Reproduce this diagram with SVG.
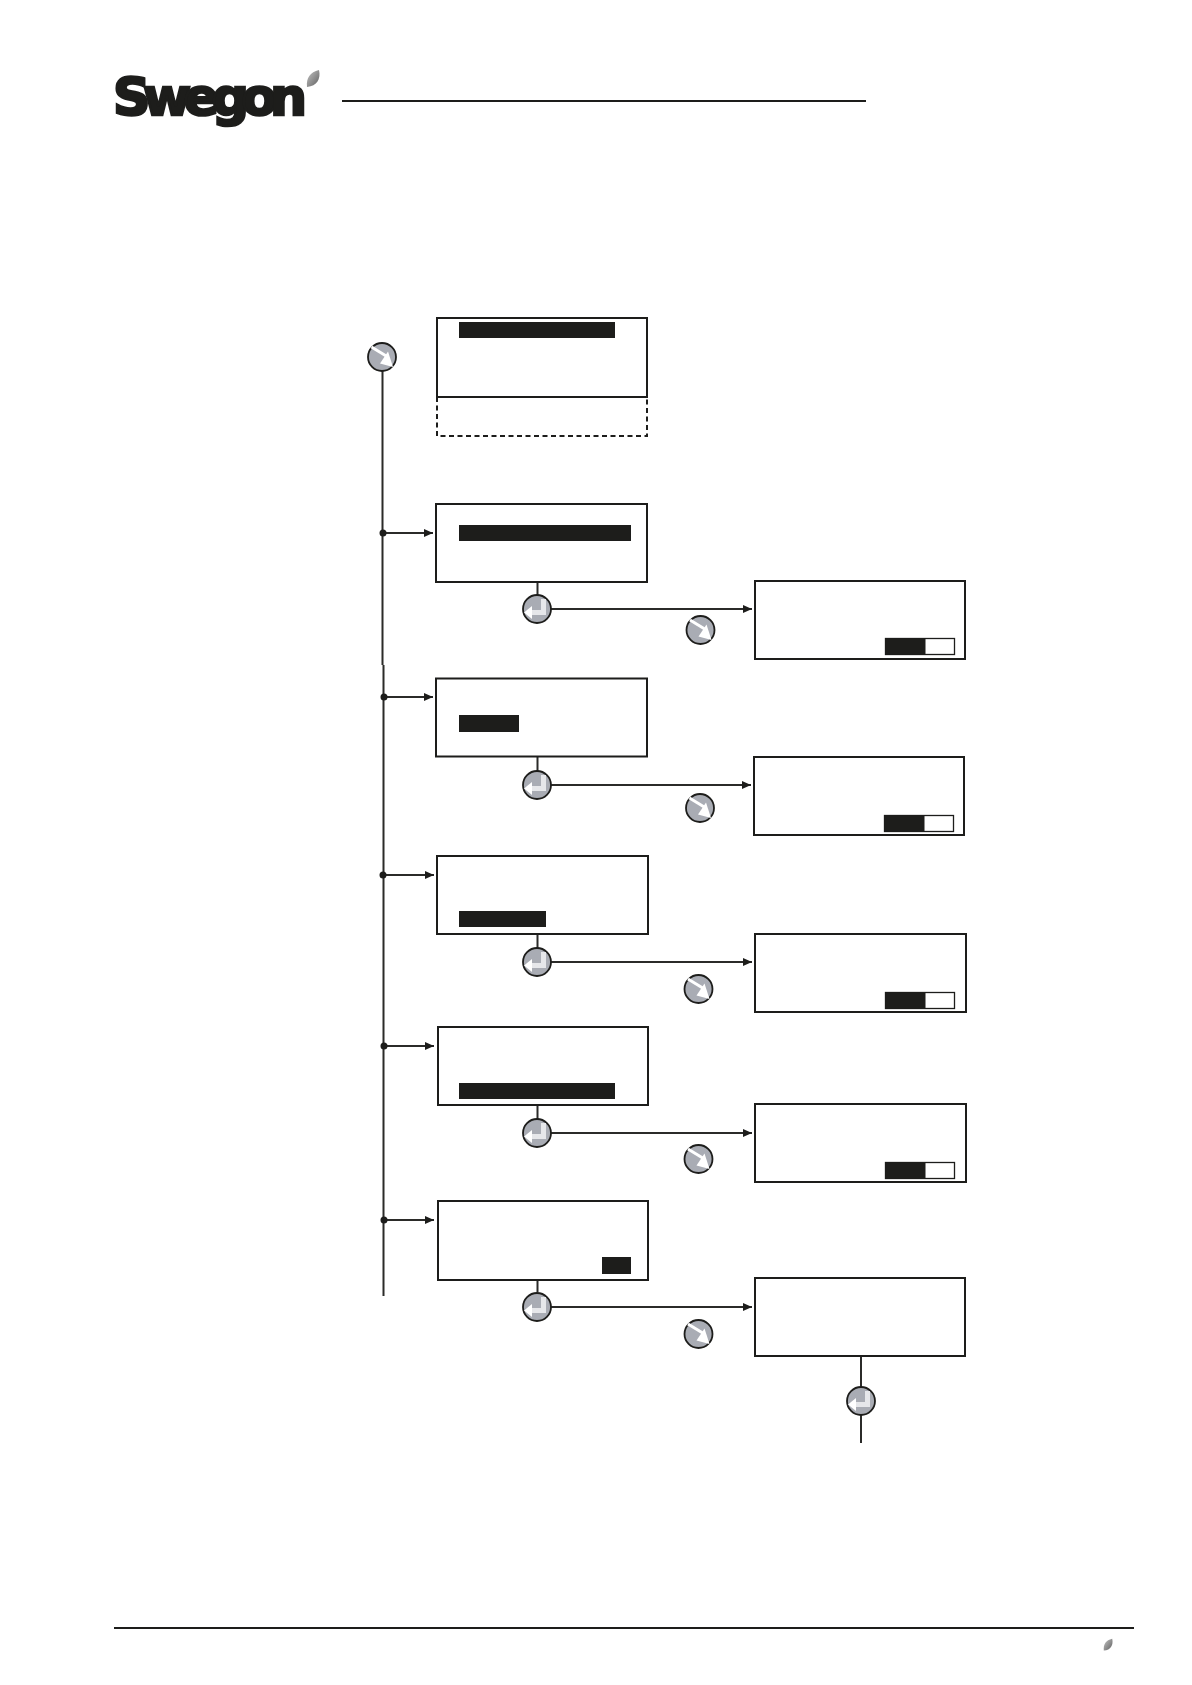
<svg xmlns="http://www.w3.org/2000/svg" width="1192" height="1685" viewBox="0 0 1192 1685">
<style>
.box{fill:#fff;stroke:#1d1d1b;stroke-width:2}
.bar{fill:#1d1d1b}
.ln{fill:none;stroke:#2b2b29;stroke-width:2}
.btn{fill:#a9acb4;stroke:#1d1d1b;stroke-width:1.8}
.logo{font-family:"DejaVu Sans",Verdana,sans-serif;font-weight:700;font-size:52px;fill:#1d1d1b;stroke:#1d1d1b;stroke-width:2.6}
</style>
<defs>
<marker id="a" markerUnits="userSpaceOnUse" markerWidth="11" markerHeight="11" refX="9" refY="5" orient="auto"><path d="M0 1L9 5L0 9Z" fill="#1d1d1b"/></marker>
<linearGradient id="lg" x1="0" y1="0" x2="1" y2="1"><stop offset="0" stop-color="#c4c4c4"/><stop offset="1" stop-color="#5f5f5f"/></linearGradient>
<g id="down"><circle r="14" class="btn"/><path d="M-10.500-10L5-.5" stroke="#fff" stroke-width="3" fill="none"/><path d="M11 10L-2 6.500L6-5.500Z" fill="#fff"/></g>
<g id="enter"><circle r="14" class="btn"/><path d="M6.500-10V3.500H-7" stroke="#e6e7ea" stroke-width="5" fill="none"/><path d="M-13 3.500L-5-3V10Z" fill="#fff"/></g>
<g id="toggle"><rect x="0" y="0" width="69" height="16" fill="#fff" stroke="#1d1d1b" stroke-width="1.300"/><rect x="0" y="0" width="40" height="16" class="bar"/></g>
<path id="leaf" d="M-6 8C-7-1-3-7 6-9C8 0 4 7-6 8Z"/>
</defs>
<g id="header">
<text class="logo" x="113" y="115" textLength="194" lengthAdjust="spacing">Swegon</text>
<use href="#leaf" x="313" y="79" fill="url(#lg)"/>
<line x1="342" y1="101" x2="866" y2="101" stroke="#1d1d1b" stroke-width="2"/>
</g>
<g id="connectors">
<path class="ln" d="M382.500 371V665M383.500 665V1296"/>
<path class="ln" d="M383 533H433" marker-end="url(#a)"/>
<path class="ln" d="M384 697H433" marker-end="url(#a)"/>
<path class="ln" d="M383 875H434" marker-end="url(#a)"/>
<path class="ln" d="M384 1046H434" marker-end="url(#a)"/>
<path class="ln" d="M383 1220H434" marker-end="url(#a)"/>
<circle cx="383" cy="533" r="3.500" fill="#1d1d1b"/>
<circle cx="384" cy="697" r="3.500" fill="#1d1d1b"/>
<circle cx="383" cy="875" r="3.500" fill="#1d1d1b"/>
<circle cx="384" cy="1046" r="3.500" fill="#1d1d1b"/>
<circle cx="384" cy="1220" r="3.500" fill="#1d1d1b"/>
<path class="ln" d="M537.500 579V595"/><path class="ln" d="M537 609H752" marker-end="url(#a)"/>
<path class="ln" d="M537.500 753V771"/><path class="ln" d="M537 785H751" marker-end="url(#a)"/>
<path class="ln" d="M537.500 931V948"/><path class="ln" d="M537 962H752" marker-end="url(#a)"/>
<path class="ln" d="M537.500 1102V1119"/><path class="ln" d="M537 1133H752" marker-end="url(#a)"/>
<path class="ln" d="M537.500 1277V1292"/><path class="ln" d="M537 1307H752" marker-end="url(#a)"/>
<path class="ln" d="M861 1356V1443"/>
</g>
<g id="n1"><rect class="box" x="437" y="318" width="210" height="79"/><rect class="bar" x="459" y="322" width="156" height="16"/></g>
<g id="n1b"><path d="M437 397V436H647V397" fill="none" stroke="#1d1d1b" stroke-width="2" stroke-dasharray="5 3.500"/></g>
<g id="n2"><rect class="box" x="436" y="504" width="211" height="78"/><rect class="bar" x="459" y="525" width="172" height="16"/></g>
<g id="n3"><rect class="box" x="436" y="678.500" width="211" height="78"/><rect class="bar" x="459" y="715" width="60" height="17"/></g>
<g id="n4"><rect class="box" x="437" y="856" width="211" height="78"/><rect class="bar" x="459" y="911" width="87" height="16"/></g>
<g id="n5"><rect class="box" x="438" y="1027" width="210" height="78"/><rect class="bar" x="459" y="1083" width="156" height="16"/></g>
<g id="n6"><rect class="box" x="438" y="1201" width="210" height="79"/><rect class="bar" x="602" y="1257" width="29" height="17"/></g>
<g id="r1"><rect class="box" x="755" y="581" width="210" height="78"/><use href="#toggle" x="885.500" y="638.500"/></g>
<g id="r2"><rect class="box" x="754" y="757" width="210" height="78"/><use href="#toggle" x="884.500" y="815.500"/></g>
<g id="r3"><rect class="box" x="755" y="934" width="211" height="78"/><use href="#toggle" x="885.500" y="992.500"/></g>
<g id="r4"><rect class="box" x="755" y="1104" width="211" height="78"/><use href="#toggle" x="885.500" y="1162.500"/></g>
<g id="r5"><rect class="box" x="755" y="1278" width="210" height="78"/></g>
<g id="buttons">
<use href="#down" x="382" y="357"/>
<use href="#enter" x="537" y="609"/>
<use href="#enter" x="537" y="785"/>
<use href="#enter" x="537" y="962"/>
<use href="#enter" x="537" y="1133"/>
<use href="#enter" x="537" y="1307"/>
<use href="#enter" x="861" y="1401"/>
<use href="#down" x="700.500" y="630"/>
<use href="#down" x="700" y="808"/>
<use href="#down" x="698.500" y="989"/>
<use href="#down" x="698.500" y="1159"/>
<use href="#down" x="698.500" y="1334"/>
</g>
<g id="footer">
<line x1="114" y1="1628" x2="1134" y2="1628" stroke="#1d1d1b" stroke-width="2"/>
<use href="#leaf" transform="translate(1108 1645) scale(.7)" fill="url(#lg)"/>
</g>
</svg>
